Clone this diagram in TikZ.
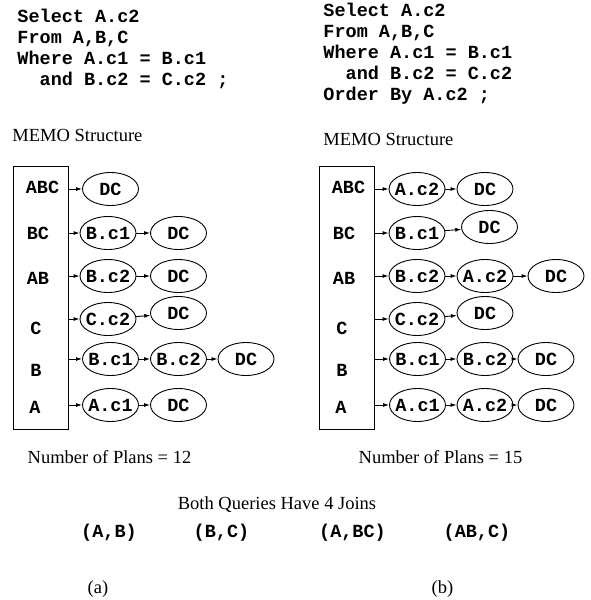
\documentclass[tikz,border=0pt]{standalone}
\usepackage{fontspec}
\setmainfont{Liberation Serif}
\setmonofont{Liberation Mono}
\usetikzlibrary{shapes.geometric,arrows.meta}

\tikzset{
  txt/.style={font=\fontsize{18.5}{21}\selectfont, inner sep=0pt},
  code/.style={font=\fontsize{18.5}{21}\selectfont\ttfamily\bfseries, inner sep=0pt},
  plan/.style={code, draw, ellipse, minimum width=56pt, minimum height=33pt,
    inner xsep=-8pt, inner ysep=0pt},
  memo/.style={draw, minimum width=55pt, minimum height=263pt, inner sep=0pt},
  link/.style={-{Latex[length=6pt,width=4pt]}},
}

\begin{document}
\begin{tikzpicture}[x=1pt, y=-1pt, line width=0.9pt]
          \useasboundingbox (0,0) rectangle (590,600);

          % the two queries
          \foreach \t [count=\i] in {{Select A.c2},{From A,B,C},{Where A.c1 = B.c1},{\phantom{aa}and B.c2 = C.c2 ;}}{
            \node[code, anchor=base west] (qa\i) at (17,{22+21*(\i-1)}) {\t};
          }
          \foreach \t [count=\i] in {{Select A.c2},{From A,B,C},{Where A.c1 = B.c1},{\phantom{aa}and B.c2 = C.c2},{Order By A.c2 ;}}{
            \node[code, anchor=base west] (qb\i) at (323,{16+21*(\i-1)}) {\t};
          }

          \node[txt, anchor=base west] (memoa) at (12,141) {MEMO Structure};
          \node[txt, anchor=base west] (memob) at (323,145) {MEMO Structure};

          % memo of query (a)
          \node[memo] (boxa) at (40.5,297.5) {};

          \node[code] (aABC) at (42.5,187) {ABC};
          \node[code] (aBC) at (38,233) {BC};
          \node[code] (aAB) at (38,278) {AB};
          \node[code] (aC) at (36,328) {C};
          \node[code] (aB) at (36,370) {B};
          \node[code] (aA) at (35,407) {A};

          \node[plan] (aABC1) at (110.5,189) {DC};

          \node[plan] (aBC1) at (108,233) {B.c1};
          \node[plan] (aBC2) at (178.5,233) {DC};

          \node[plan] (aAB1) at (108,276) {B.c2};
          \node[plan] (aAB2) at (178.5,276) {DC};

          \node[plan] (aC1) at (108,319) {C.c2};
          \node[plan] (aC2) at (178.5,313) {DC};

          \node[plan] (aB1) at (110.5,359) {B.c1};
          \node[plan] (aB2) at (178.5,359) {B.c2};
          \node[plan] (aB3) at (246,359) {DC};

          \node[plan] (aA1) at (110.5,405) {A.c1};
          \node[plan] (aA2) at (178.5,405) {DC};

          \foreach \r in {ABC,BC,AB,C,B,A}{
            \draw[link] (boxa.east |- a\r1.west) -- (a\r1.west);
          }
          \draw[link] (aBC1) -- (aBC2);
          \draw[link] (aAB1) -- (aAB2);
          \draw[link] (aC1) -- (aC2);
          \draw[link] (aB1) -- (aB2);
          \draw[link] (aB2) -- (aB3);
          \draw[link] (aA1) -- (aA2);

          % memo of query (b)
          \node[memo] (boxb) at (346.5,297.5) {};

          \node[code] (bABC) at (348.5,187) {ABC};
          \node[code] (bBC) at (344,233) {BC};
          \node[code] (bAB) at (344,278) {AB};
          \node[code] (bC) at (342,328) {C};
          \node[code] (bB) at (342,370) {B};
          \node[code] (bA) at (341,407) {A};

          \node[plan] (bABC1) at (417,189) {A.c2};
          \node[plan] (bABC2) at (485,189) {DC};

          \node[plan] (bBC1) at (417,233) {B.c1};
          \node[plan] (bBC2) at (489.5,227) {DC};

          \node[plan] (bAB1) at (417,276) {B.c2};
          \node[plan] (bAB2) at (485,276) {A.c2};
          \node[plan] (bAB3) at (556,276) {DC};

          \node[plan] (bC1) at (417,319) {C.c2};
          \node[plan] (bC2) at (485,313) {DC};

          \node[plan] (bB1) at (417.5,359) {B.c1};
          \node[plan] (bB2) at (485,359) {B.c2};
          \node[plan] (bB3) at (546,359) {DC};

          \node[plan] (bA1) at (417.5,405) {A.c1};
          \node[plan] (bA2) at (485,405) {A.c2};
          \node[plan] (bA3) at (546,405) {DC};

          \foreach \r in {ABC,BC,AB,C,B,A}{
            \draw[link] (boxb.east |- b\r1.west) -- (b\r1.west);
          }
          \draw[link] (bABC1) -- (bABC2);
          \draw[link] (bBC1) -- (bBC2);
          \draw[link] (bAB1) -- (bAB2);
          \draw[link] (bAB2) -- (bAB3);
          \draw[link] (bC1) -- (bC2);
          \draw[link] (bB1) -- (bB2);
          \draw[link] (bB2) -- (bB3);
          \draw[link] (bA1) -- (bA2);
          \draw[link] (bA2) -- (bA3);

          % counts and joins
          \node[txt, anchor=base] (numa) at (109.5,463) {Number of Plans = 12};
          \node[txt, anchor=base] (numb) at (440.5,463) {Number of Plans = 15};
          \node[txt, anchor=base] (both) at (277,509) {Both Queries Have 4 Joins};

          \node[code, anchor=base] (j1) at (109,537) {(A,B)};
          \node[code, anchor=base] (j2) at (221.5,537) {(B,C)};
          \node[code, anchor=base] (j3) at (352.5,537) {(A,BC)};
          \node[code, anchor=base] (j4) at (477,537) {(AB,C)};

          \node[txt, anchor=base] (capa) at (98,593) {(a)};
          \node[txt, anchor=base] (capb) at (442.5,593) {(b)};
        \end{tikzpicture}
\end{document}
